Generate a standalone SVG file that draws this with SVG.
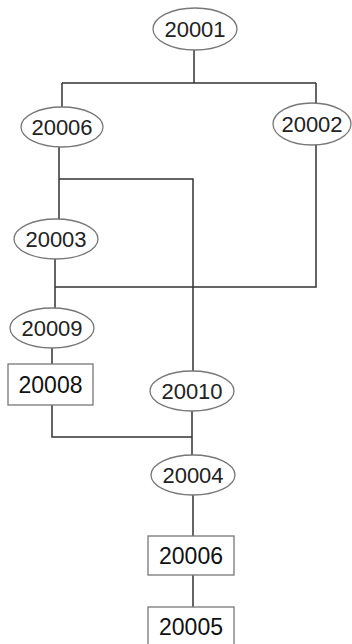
<svg xmlns="http://www.w3.org/2000/svg" width="352" height="644" viewBox="0 0 352 644">
<style>
.e{fill:#fff;stroke:#777;stroke-width:1.3}
.r{fill:#fff;stroke:#777;stroke-width:1.3}
.c{fill:none;stroke:#333;stroke-width:1.5}
.t{font-family:"Liberation Sans",Arial,sans-serif;font-size:22px;fill:#222;text-anchor:middle}
.tr{font-family:"Liberation Sans",Arial,sans-serif;font-size:23px;fill:#111;text-anchor:middle}
</style>
<rect width="352" height="644" fill="#fff"/>
<g id="connectors">
<path class="c" d="M194 50V83M62 83H316M62 83V107M316 83V103"/>
<path class="c" d="M59 147V219M59 179H193V371"/>
<path class="c" d="M316 145V287H55M55 259V308"/>
<path class="c" d="M52 348V364M52 405V437H192M192 411V455"/>
<path class="c" d="M193 495V536M193 575V607"/>
</g>
<g id="n20001"><ellipse class="e" cx="195" cy="29" rx="42" ry="21"/><text class="t" x="195" y="37">20001</text></g>
<g id="n20006a"><ellipse class="e" cx="62" cy="127" rx="41" ry="20"/><text class="t" x="62" y="135">20006</text></g>
<g id="n20002"><ellipse class="e" cx="312" cy="124" rx="39" ry="21"/><text class="t" x="312" y="132">20002</text></g>
<g id="n20003"><ellipse class="e" cx="56" cy="239" rx="42" ry="20"/><text class="t" x="56" y="247">20003</text></g>
<g id="n20009"><ellipse class="e" cx="52" cy="328" rx="42" ry="20"/><text class="t" x="52" y="336">20009</text></g>
<g id="n20008"><rect class="r" x="8" y="364" width="85" height="41"/><text class="tr" x="50.5" y="393">20008</text></g>
<g id="n20010"><ellipse class="e" cx="192" cy="391" rx="42" ry="20"/><text class="t" x="192" y="399">20010</text></g>
<g id="n20004"><ellipse class="e" cx="193" cy="475" rx="42" ry="20"/><text class="t" x="193" y="483">20004</text></g>
<g id="n20006b"><rect class="r" x="148" y="536" width="86" height="39"/><text class="tr" x="191" y="564">20006</text></g>
<g id="n20005"><rect class="r" x="148" y="607" width="86" height="42"/><text class="tr" x="191" y="635">20005</text></g>
</svg>
